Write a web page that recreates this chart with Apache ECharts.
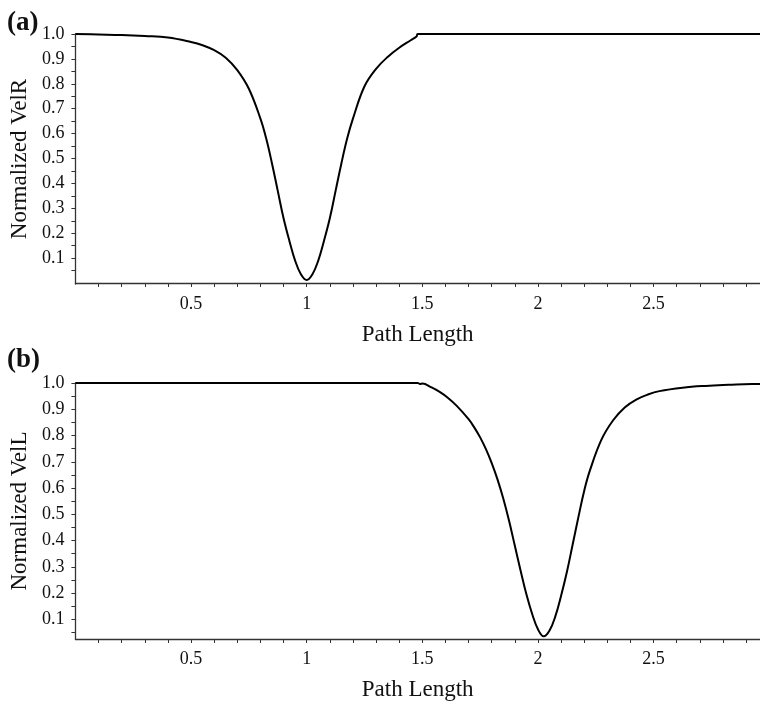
<!DOCTYPE html>
<html>
<head>
<meta charset="utf-8">
<script src="https://cdn.jsdelivr.net/npm/echarts@6/dist/echarts.min.js"></script>
<style>
  html, body { margin: 0; padding: 0; background: #fff; }
  #main { width: 760px; height: 706px; }
</style>
</head>
<body>
<div id="main"></div>
<script>
// (a) 右轮速度
var pathR = [0, 0.1, 0.2, 0.3, 0.4, 0.5, 0.55, 0.6, 0.65, 0.7, 0.75, 0.8, 0.825, 0.85, 0.875, 0.9, 0.925, 0.95, 0.975, 1.0,
  1.025, 1.05, 1.075, 1.1, 1.125, 1.15, 1.175, 1.2, 1.25, 1.3, 1.35, 1.4, 1.45, 1.475, 1.48, 2.96];
var velR = [1.0, 0.998, 0.996, 0.992, 0.986, 0.968, 0.955, 0.935, 0.905, 0.855, 0.78, 0.66, 0.58, 0.48, 0.37, 0.26, 0.17, 0.09, 0.035, 0.012,
  0.035, 0.09, 0.17, 0.26, 0.37, 0.48, 0.58, 0.66, 0.79, 0.86, 0.908, 0.945, 0.975, 0.99, 1.0, 1.0];

// (b) 左轮速度
var pathL = [0, 1.48, 1.49, 1.5, 1.54, 1.575, 1.61, 1.65, 1.7, 1.725, 1.75, 1.775, 1.8, 1.825, 1.85, 1.875, 1.9, 1.925, 1.95, 1.975, 2.0, 2.025,
  2.05, 2.075, 2.1, 2.125, 2.15, 2.175, 2.2, 2.225, 2.275, 2.325, 2.375, 2.425, 2.475, 2.525, 2.625, 2.725, 2.825, 2.925, 2.96];
var velL = [1.0, 1.0, 0.996, 0.998, 0.983, 0.966, 0.944, 0.912, 0.862, 0.83, 0.793, 0.748, 0.695, 0.633, 0.56, 0.475, 0.38, 0.285, 0.195, 0.12, 0.062, 0.035,
  0.057, 0.111, 0.19, 0.28, 0.385, 0.49, 0.59, 0.668, 0.785, 0.858, 0.907, 0.937, 0.956, 0.969, 0.982, 0.989, 0.993, 0.996, 0.996];

var xLabels = [0.5, 1, 1.5, 2, 2.5];
var xTicks = [0.1, 0.2, 0.3, 0.4, 0.5, 0.6, 0.7, 0.8, 0.9, 1, 1.1, 1.2, 1.3, 1.4, 1.5, 1.6, 1.7, 1.8, 1.9, 2,
  2.1, 2.2, 2.3, 2.4, 2.5, 2.6, 2.7, 2.8, 2.9];
var yLabels = [0.1, 0.2, 0.3, 0.4, 0.5, 0.6, 0.7, 0.8, 0.9, 1.0];
var yTicks = [0.05, 0.1, 0.15, 0.2, 0.25, 0.3, 0.35, 0.4, 0.45, 0.5, 0.55, 0.6, 0.65, 0.7, 0.75, 0.8, 0.85, 0.9, 0.95, 1.0];

function pairs(xs, ys) {
  return xs.map(function (x, i) { return [x, ys[i]]; });
}

var serif = "Liberation Serif";
var axisLine = { lineStyle: { color: "#333", width: 1.3 } };

function xAxisOf(idx) {
  return {
    type: "value", gridIndex: idx, min: 0, max: 2.96,
    name: "Path Length", nameLocation: "middle", nameGap: 39,
    nameTextStyle: { fontFamily: serif, fontSize: 23, color: "#111" },
    axisLine: axisLine,
    axisTick: { customValues: xTicks, length: 4, lineStyle: { color: "#333" } },
    axisLabel: { customValues: xLabels, margin: 11, fontFamily: serif, fontSize: 18, color: "#111" },
    splitLine: { show: false }
  };
}

function yAxisOf(idx, min, name) {
  return {
    type: "value", gridIndex: idx, min: min, max: 1.0,
    name: name, nameLocation: "middle", nameGap: 40,
    nameTextStyle: { fontFamily: serif, fontSize: 23, color: "#111" },
    axisLine: axisLine,
    axisTick: { customValues: yTicks, length: 4, lineStyle: { color: "#333" } },
    axisLabel: {
      customValues: yLabels, margin: 11, fontFamily: serif, fontSize: 18, color: "#111",
      formatter: function (v) { return v.toFixed(1); }
    },
    splitLine: { show: false }
  };
}

var chart = echarts.init(document.getElementById("main"));
chart.setOption({
  animation: false,
  title: [
    { text: "(a)", left: 7, top: 10, padding: 0, textStyle: { fontFamily: serif, fontSize: 27, fontWeight: "bold", color: "#111" } },
    { text: "(b)", left: 7, top: 347, padding: 0, textStyle: { fontFamily: serif, fontSize: 27, fontWeight: "bold", color: "#111" } }
  ],
  grid: [
    { left: 73.5, top: 34, width: 686.5, height: 250 },
    { left: 73.5, top: 383, width: 686.5, height: 256 }
  ],
  xAxis: [xAxisOf(0), xAxisOf(1)],
  yAxis: [yAxisOf(0, -0.004, "Normalized VelR"), yAxisOf(1, 0.025, "Normalized VelL")],
  series: [
    {
      type: "line", xAxisIndex: 0, yAxisIndex: 0, data: pairs(pathR, velR),
      smooth: 0.4, showSymbol: false,
      lineStyle: { color: "#000", width: 2 }
    },
    {
      type: "line", xAxisIndex: 1, yAxisIndex: 1, data: pairs(pathL, velL),
      smooth: 0.4, showSymbol: false,
      lineStyle: { color: "#000", width: 2 }
    }
  ]
});
</script>
</body>
</html>
